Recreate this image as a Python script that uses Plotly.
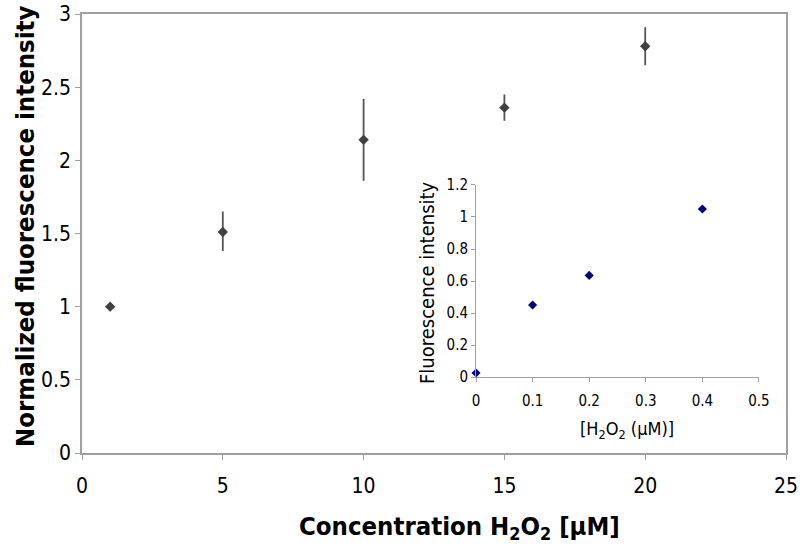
import plotly.graph_objects as go

# Main data
conc = [1, 5, 10, 15, 20]
norm_fluor = [1.00, 1.51, 2.14, 2.36, 2.78]
err_plus = [0.0, 0.14, 0.28, 0.09, 0.13]
err_minus = [0.0, 0.13, 0.28, 0.09, 0.13]

# Inset data
inset_conc = [0.0, 0.1, 0.2, 0.4]
inset_fluor = [0.025, 0.45, 0.635, 1.05]

FONT = "DejaVu Sans Condensed, Liberation Sans Narrow, Liberation Sans, sans-serif"

fig = go.Figure()
fig.add_trace(go.Scatter(
    x=conc, y=norm_fluor, mode="markers",
    marker=dict(symbol="diamond", size=8, color="#404040"),
    error_y=dict(type="data", symmetric=False, array=err_plus, arrayminus=err_minus,
                 color="#555555", thickness=1.8, width=0),
    xaxis="x", yaxis="y", showlegend=False,
))
fig.add_trace(go.Scatter(
    x=inset_conc, y=inset_fluor, mode="markers",
    marker=dict(symbol="diamond", size=7, color="#000080"),
    xaxis="x2", yaxis="y2", showlegend=False, cliponaxis=False,
))

fig.update_layout(
    template="none",
    width=800, height=552,
    margin=dict(l=82, r=14, t=14, b=99),
    paper_bgcolor="white", plot_bgcolor="white",
    font=dict(family=FONT, color="black"),
    xaxis=dict(domain=[0, 1], range=[0, 25], tickvals=[0, 5, 10, 15, 20, 25],
               automargin=False, ticklabeloverflow="allow",
               showgrid=False, zeroline=False, showline=True, linecolor="#a0a0a0",
               linewidth=1.5, mirror=True, ticks="outside", ticklen=5, tickcolor="#a0a0a0",
               tickfont=dict(size=21, family=FONT), ticklabelstandoff=8),
    yaxis=dict(domain=[0, 1], range=[0, 3], tickvals=[0, 0.5, 1, 1.5, 2, 2.5, 3],
               ticktext=["0", "0.5", "1", "1.5", "2", "2.5", "3"],
               automargin=False, ticklabeloverflow="allow",
               showgrid=False, zeroline=False, showline=True, linecolor="#a0a0a0",
               linewidth=1.5, mirror=True, ticks="outside", ticklen=5, tickcolor="#a0a0a0",
               tickfont=dict(size=21, family=FONT)),
    xaxis2=dict(domain=[0.5597, 0.9616], anchor="y2", range=[0, 0.5],
                tickvals=[0, 0.1, 0.2, 0.3, 0.4, 0.5],
                ticktext=["0", "0.1", "0.2", "0.3", "0.4", "0.5"],
                automargin=False,
                showgrid=False, zeroline=False, showline=True, linecolor="#a0a0a0",
                linewidth=1, ticks="outside", ticklen=4, tickcolor="#a0a0a0",
                tickfont=dict(size=15, family=FONT), ticklabelstandoff=6),
    yaxis2=dict(domain=[0.1731, 0.6105], anchor="x2", range=[0, 1.2],
                tickvals=[0, 0.2, 0.4, 0.6, 0.8, 1.0, 1.2],
                ticktext=["0", "0.2", "0.4", "0.6", "0.8", "1", "1.2"],
                automargin=False,
                showgrid=False, zeroline=False, showline=True, linecolor="#a0a0a0",
                linewidth=1, ticks="outside", ticklen=4, tickcolor="#a0a0a0",
                tickfont=dict(size=15, family=FONT)),
    annotations=[
        dict(text="<b>Concentration H<sub>2</sub>O<sub>2</sub> [µM]</b>", xref="paper", yref="paper",
             x=(459 - 82) / 704, y=-(527 - 453) / 439, xanchor="center", yanchor="middle",
             showarrow=False, font=dict(size=25.5, family=FONT, color="black")),
        dict(text="<b>Normalized fluorescence intensity</b>", xref="paper", yref="paper",
             x=(25 - 82) / 704, y=(453 - 226) / 439, xanchor="center", yanchor="middle",
             textangle=-90, showarrow=False, font=dict(size=25.5, family=FONT, color="black")),
        dict(text="[H<sub>2</sub>O<sub>2</sub> (µM)]", xref="paper", yref="paper",
             x=(627 - 82) / 704, y=(453 - 430) / 439, xanchor="center", yanchor="middle",
             showarrow=False, font=dict(size=18, family=FONT, color="black")),
        dict(text="Fluorescence intensity", xref="paper", yref="paper",
             x=(427 - 82) / 704, y=(453 - 283) / 439, xanchor="center", yanchor="middle",
             textangle=-90, showarrow=False, font=dict(size=20, family=FONT, color="black")),
    ],
)

fig.write_html(
    "out.html",
    config={"displayModeBar": False},
    post_script="document.body.style.margin='0';document.body.style.overflow='hidden';",
)
